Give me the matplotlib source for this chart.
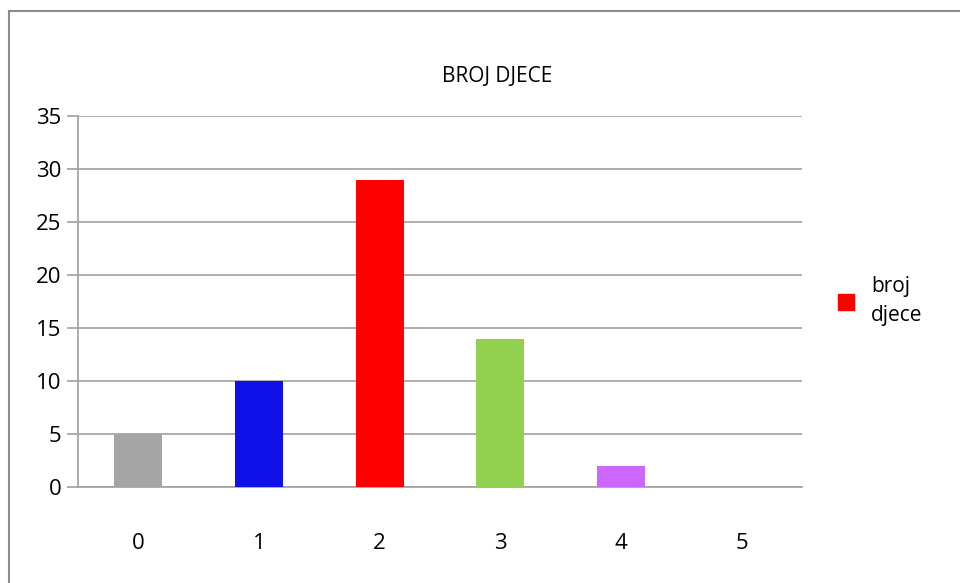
import matplotlib.pyplot as plt
from matplotlib.patches import Rectangle
from matplotlib.lines import Line2D

categories = ['0', '1', '2', '3', '4', '5']
values = [5, 10, 29, 14, 2, 0]
colors = ['#a5a5a5', '#1010e8', '#ff0000', '#92d050', '#cc66ff', '#4f81bd']

plt.rcParams['font.family'] = ['Open Sans', 'DejaVu Sans']

fig = plt.figure(figsize=(9.6, 5.83), dpi=100)
W, H = 960, 583

# outer chart border (only left/top visible in the reference)
fig.patches.append(Rectangle((9 / W, -0.1), 1.2, (H - 11) / H + 0.1,
                             transform=fig.transFigure, fill=False,
                             edgecolor='#8c8c8c', linewidth=1.5))

ax = fig.add_axes([78 / W, (H - 487) / H, (802 - 78) / W, (487 - 116) / H])
x = range(len(categories))
ax.bar(x, values, width=0.4, color=colors, zorder=3)
ax.set_xlim(-0.5, 5.5)
ax.set_ylim(0, 35)
ax.set_yticks(range(0, 36, 5))
ax.set_xticks(list(x))
ax.set_xticklabels(categories)
ax.yaxis.grid(True, color='#a0a0a0', linewidth=1.2, zorder=0)
for s in ['top', 'right']:
    ax.spines[s].set_visible(False)
ax.spines['left'].set_color('#a0a0a0')
ax.spines['bottom'].set_color('#a0a0a0')
ax.spines['left'].set_linewidth(1.2)
ax.spines['bottom'].set_linewidth(1.2)
ax.tick_params(axis='y', length=8, color='#a0a0a0', width=1.2, labelsize=16, pad=4)
ax.tick_params(axis='x', length=0, labelsize=16, pad=33)

fig.text(497 / W, 1 - 77 / H, 'BROJ DJECE', ha='center', va='center', fontsize=15)

handle = Line2D([], [], marker='s', linestyle='none', markersize=11,
                markerfacecolor='#ff0000', markeredgecolor='#ff0000')
leg = fig.legend([handle], ['broj\ndjece'], loc='center left',
                 bbox_to_anchor=(815 / W, 1 - 301 / H), frameon=False,
                 fontsize=15, handletextpad=0.6, handlelength=1.2)
leg.get_texts()[0].set_linespacing(1.45)

fig.savefig('out.png', dpi=100)
